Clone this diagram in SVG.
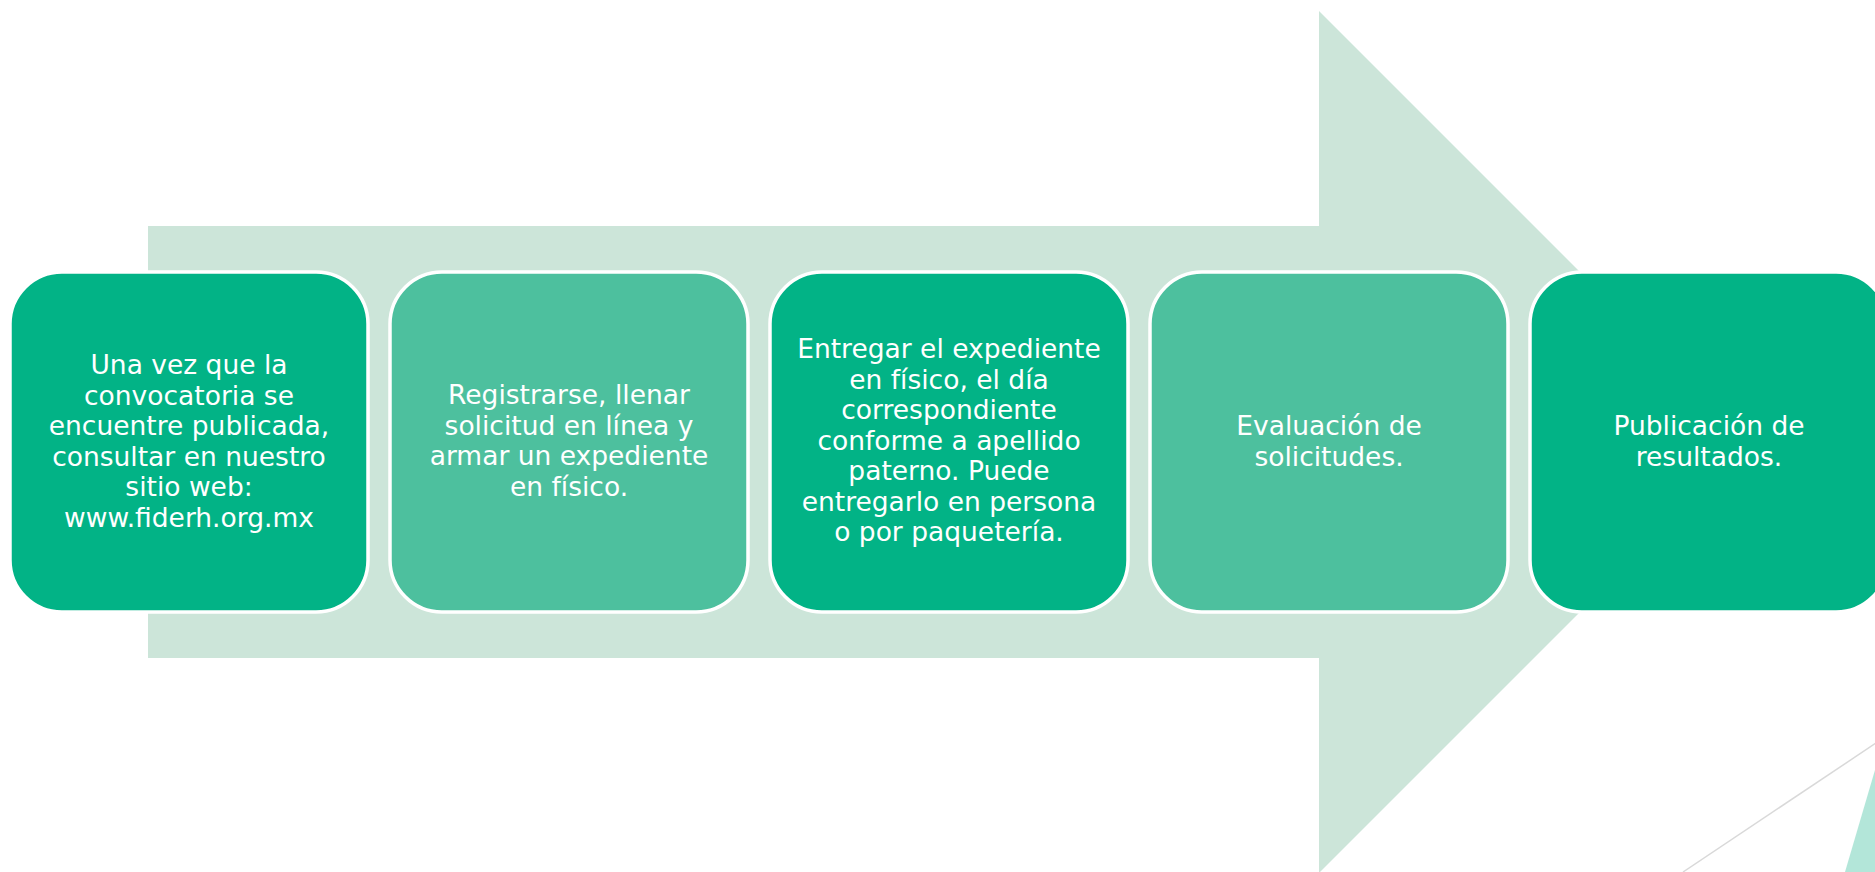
<svg xmlns="http://www.w3.org/2000/svg" width="1875" height="872" viewBox="0 0 1875 872">
<style>
.box{stroke:#FFFFFF;stroke-width:3.5}
.dark{fill:#02B386}
.light{fill:#4DC09E}
.t{font-family:"DejaVu Sans",Verdana,sans-serif;font-size:26.5px;fill:#FFFFFF;text-anchor:middle}
</style>
<rect width="1875" height="872" fill="#FFFFFF"/>
<g id="arrow">
<polygon points="148,226 1319,226 1319,11 1750,442 1319,873 1319,658 148,658" fill="#CCE5D9"/>
</g>
<g id="decor">
<line x1="1900" y1="727" x2="1683" y2="872" stroke="#D9D9D9" stroke-width="1.5"/>
<polygon points="1875,770 1845,872 1875,872" fill="#B3E6D9"/>
</g>
<g id="connectors"></g>
<g id="node1">
<rect class="box dark" x="10" y="272" width="358" height="340" rx="52" ry="52"/>
<text class="t" x="189" y="374">Una vez que la</text>
<text class="t" x="189" y="404.5">convocatoria se</text>
<text class="t" x="189" y="435">encuentre publicada,</text>
<text class="t" x="189" y="465.5">consultar en nuestro</text>
<text class="t" x="189" y="496">sitio web:</text>
<text class="t" x="189" y="526.5">www.fiderh.org.mx</text>
</g>
<g id="node2">
<rect class="box light" x="390" y="272" width="358" height="340" rx="52" ry="52"/>
<text class="t" x="569" y="404">Registrarse, llenar</text>
<text class="t" x="569" y="434.5">solicitud en línea y</text>
<text class="t" x="569" y="465">armar un expediente</text>
<text class="t" x="569" y="495.5">en físico.</text>
</g>
<g id="node3">
<rect class="box dark" x="770" y="272" width="358" height="340" rx="52" ry="52"/>
<text class="t" x="949" y="358">Entregar el expediente</text>
<text class="t" x="949" y="388.5">en físico, el día</text>
<text class="t" x="949" y="419">correspondiente</text>
<text class="t" x="949" y="449.5">conforme a apellido</text>
<text class="t" x="949" y="480">paterno. Puede</text>
<text class="t" x="949" y="510.5">entregarlo en persona</text>
<text class="t" x="949" y="541">o por paquetería.</text>
</g>
<g id="node4">
<rect class="box light" x="1150" y="272" width="358" height="340" rx="52" ry="52"/>
<text class="t" x="1329" y="435">Evaluación de</text>
<text class="t" x="1329" y="465.5">solicitudes.</text>
</g>
<g id="node5">
<rect class="box dark" x="1530" y="272" width="358" height="340" rx="52" ry="52"/>
<text class="t" x="1709" y="435">Publicación de</text>
<text class="t" x="1709" y="465.5">resultados.</text>
</g>
</svg>
